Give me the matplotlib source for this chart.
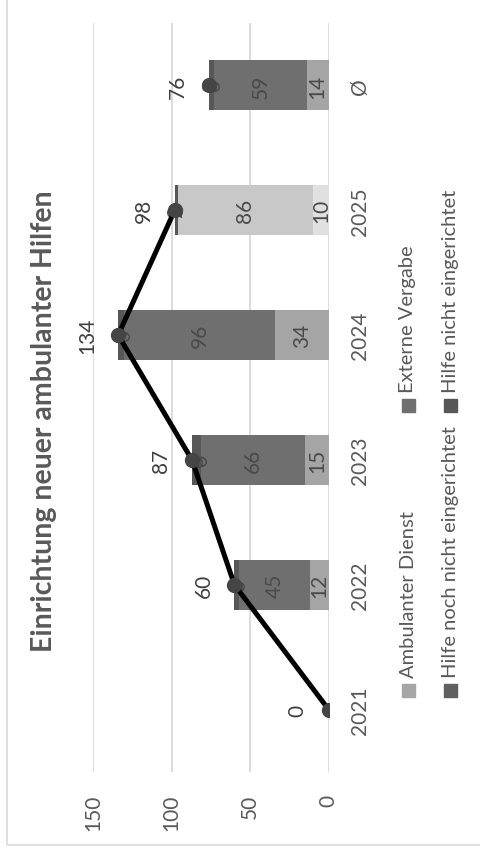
import matplotlib
matplotlib.use("Agg")
import matplotlib.pyplot as plt
from matplotlib.patches import Rectangle

plt.rcParams['font.family'] = ['Lato', 'DejaVu Sans']

categories = ["2021", "2022", "2023", "2024", "2025", "Ø"]
ambulanter = [0, 12, 15, 34, 10, 14]
extern = [0, 45, 66, 96, 86, 59]
noch_nicht = [0, 0, 0, 0, 0, 0]
nicht = [0, 3, 6, 4, 2, 3]
totals = [0, 60, 87, 134, 98, 76]
series_names = ["Ambulanter Dienst", "Externe Vergabe",
                "Hilfe noch nicht eingerichtet", "Hilfe nicht eingerichtet"]
title = "Einrichtung neuer ambulanter Hilfen"
xticks = [0, 50, 100, 150]

col_amb = ['#a5a5a5'] * 4 + ['#e0e0e0', '#a5a5a5']
col_ext = ['#6f6f6f'] * 4 + ['#c8c8c8', '#6f6f6f']
col_noch = ['#606060'] * 6
col_nicht = ['#575757'] * 6
legend_colors = ['#a5a5a5', '#6f6f6f', '#606060', '#575757']

TXT = '#595959'
W, H = 480, 854
fig = plt.figure(figsize=(W / 100, H / 100), dpi=100)

def fx(x):
    return x / W

def fy(y):
    return 1 - y / H

ax = fig.add_axes([fx(93), fy(773), (328.7 - 93) / W, (773 - 24) / H])
ax.set_xlim(150, 0)
ax.set_ylim(-0.5, 5.5)
for s in ax.spines.values():
    s.set_visible(False)
ax.set_xticks(xticks)
ax.grid(axis='x', color='#d9d9d9', lw=1.3)
ax.set_axisbelow(True)

ypos = list(range(len(categories)))
left = [0] * len(categories)
for vals, cols in [(ambulanter, col_amb), (extern, col_ext), (noch_nicht, col_noch), (nicht, col_nicht)]:
    ax.barh(ypos, vals, left=left, height=0.4, color=cols, zorder=2)
    for i, v in enumerate(vals):
        if totals[i] > 0:
            ax.text(left[i] + v / 2, i, str(v), rotation=90, ha='center', va='center',
                    fontsize=15, color='#4a4a4a', zorder=3)
    left = [l + v for l, v in zip(left, vals)]

# total line: years connected, average shown as a separate point
ax.plot(totals[:-1], ypos[:-1], color='black', lw=3.6, marker='o', ms=10,
        mfc='#454545', mec='#454545', zorder=5)
ax.plot(totals[-1:], ypos[-1:], linestyle='none', marker='o', ms=10,
        mfc='#454545', mec='#454545', zorder=5)
for i, t in enumerate(totals):
    ax.annotate(str(t), (t, i), xytext=(-31, 0), textcoords='offset pixels',
                rotation=90, ha='center', va='center', fontsize=15, color='#404040')

ax.tick_params(axis='x', length=0, pad=15.5, labelsize=15, labelcolor=TXT)
ax.set_xticklabels([str(v) for v in xticks], rotation=90, va='top', ha='center')
ax.yaxis.tick_right()
ax.set_yticks(ypos)
ax.set_yticklabels(categories, rotation=90, va='center', ha='left')
ax.tick_params(axis='y', length=0, pad=15, labelsize=15, labelcolor=TXT)

# title
fig.text(fx(44), fy(421), title, rotation=90, ha='center', va='center',
         fontsize=20.5, fontweight='bold', color=TXT)

# legend (rotated)
leg_pos = [(408, 691.5), (408, 406.5), (450.5, 691.5), (450.5, 406.5)]
for (x, y), name, c in zip(leg_pos, series_names, legend_colors):
    fig.patches.append(Rectangle((fx(x - 6.5), fy(y + 6.5)), 13 / W, 13 / H,
                                 transform=fig.transFigure, color=c, figure=fig))
    fig.text(fx(x), fy(y - 13.5), name, rotation=90, ha='center', va='bottom',
             fontsize=14.5, color=TXT)

# chart border
fig.patches.append(Rectangle((fx(6.5), fy(845.5)), 1.2, 1.2, transform=fig.transFigure,
                             fill=False, edgecolor='#d9d9d9', lw=1.2, figure=fig))

fig.savefig("out.png", dpi=100)
